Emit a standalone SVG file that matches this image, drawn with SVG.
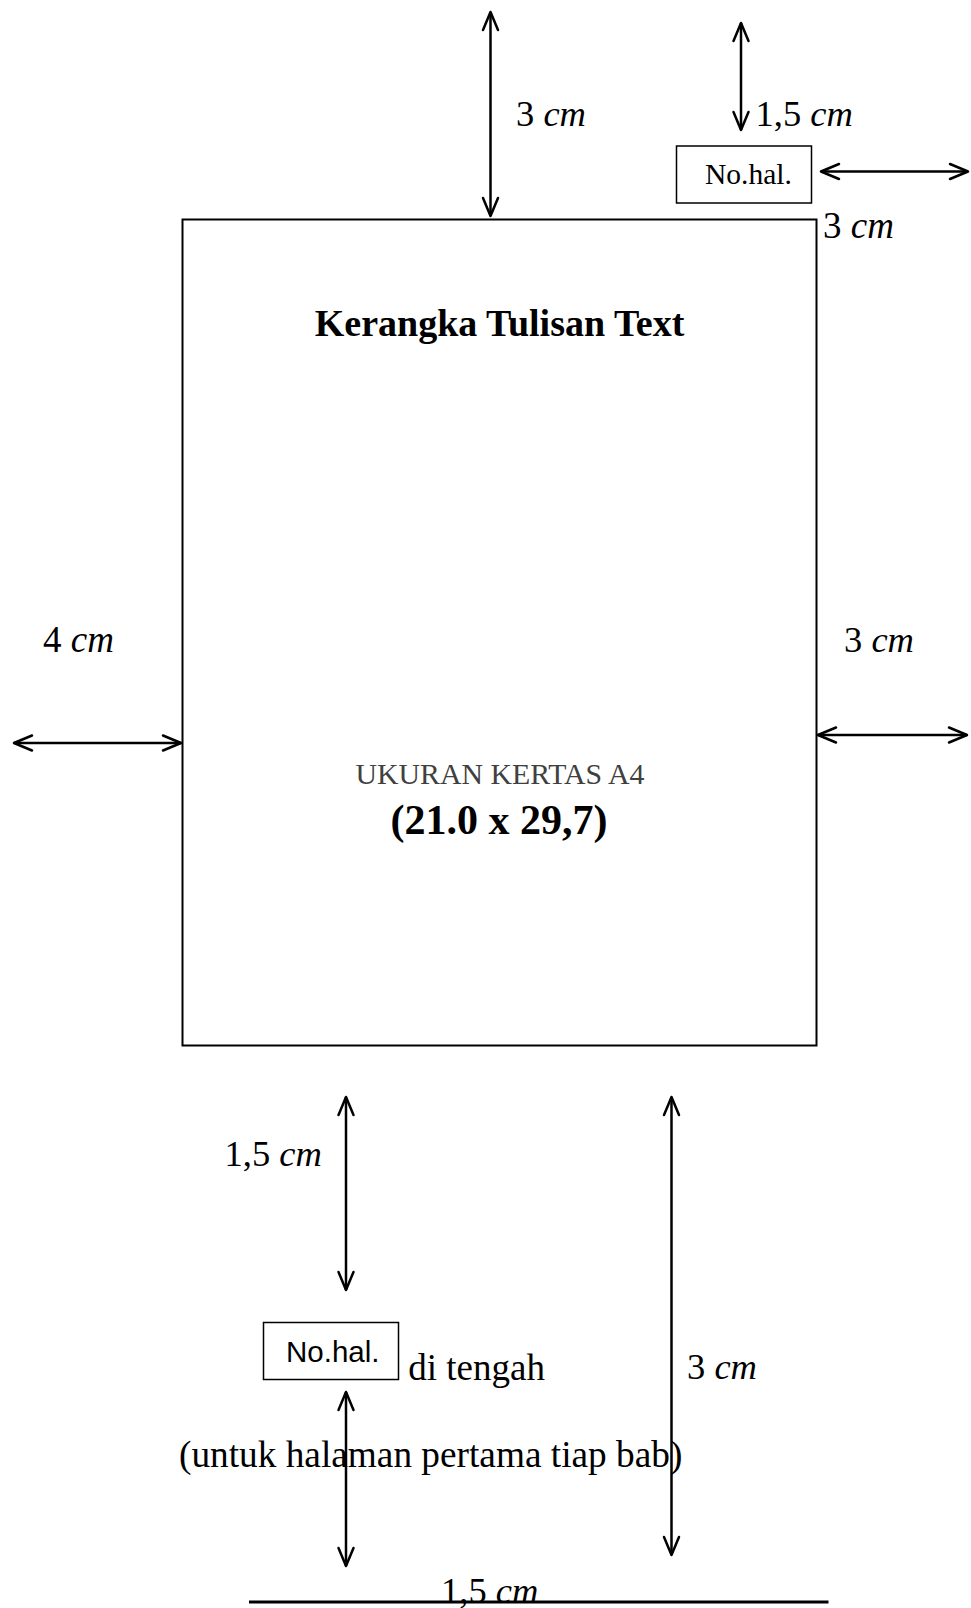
<svg xmlns="http://www.w3.org/2000/svg" width="971" height="1608" viewBox="0 0 971 1608">
<style>
.t{font-family:"Liberation Serif","Times New Roman",serif;fill:#000}
.lbl{font-size:36.5px}
.i{font-style:italic}
.ar{stroke:#000;stroke-width:2.5;fill:none;marker-start:url(#ah);marker-end:url(#ah)}
.box{fill:#fff;stroke:#000;stroke-width:1.5}
</style>
<defs>
<marker id="ah" viewBox="-20 -10 22 20" refX="0" refY="0" markerWidth="22" markerHeight="20" markerUnits="userSpaceOnUse" orient="auto-start-reverse">
<path d="M-18,-7.5 L0,0 L-18,7.5" fill="none" stroke="#000" stroke-width="2.5" stroke-linejoin="round" stroke-linecap="round"/>
</marker>
</defs>
<rect width="971" height="1608" fill="#fff"/>
<g id="page">
<rect x="182.5" y="219.5" width="634" height="826" fill="none" stroke="#000" stroke-width="2"/>
<text class="t" x="499.5" y="336" font-size="38" font-weight="bold" text-anchor="middle">Kerangka Tulisan Text</text>
<text class="t" x="500" y="784" font-size="29.8" text-anchor="middle" style="fill:#404040">UKURAN KERTAS A4</text>
<text class="t" x="499" y="834" font-size="42" font-weight="bold" text-anchor="middle">(21.0 x 29,7)</text>
</g>
<g id="nohal-top">
<rect class="box" x="676.5" y="146" width="135" height="57"/>
<text class="t" x="705" y="184" font-size="29.5">No.hal.</text>
</g>
<g id="nohal-bottom">
<rect class="box" x="263.5" y="1322.5" width="135" height="57"/>
<text x="286" y="1362" font-size="29.5" font-family="Liberation Sans, Arial, sans-serif">No.hal.</text>
</g>
<g id="connectors">
<line class="ar" x1="490.5" y1="12" x2="490.5" y2="216"/>
<line class="ar" x1="741" y1="23" x2="741" y2="130"/>
<line class="ar" x1="821" y1="171.5" x2="968" y2="171.5"/>
<line class="ar" x1="14" y1="743" x2="181" y2="743"/>
<line class="ar" x1="818" y1="735" x2="967" y2="735"/>
<line class="ar" x1="346" y1="1097" x2="346" y2="1290"/>
<line class="ar" x1="346" y1="1392" x2="346" y2="1566"/>
<line class="ar" x1="671.5" y1="1097" x2="671.5" y2="1555"/>
<line x1="249" y1="1602" x2="828.5" y2="1602" stroke="#000" stroke-width="3"/>
</g>
<g id="labels">
<text class="t lbl" x="516" y="126">3 <tspan class="i">cm</tspan></text>
<text class="t lbl" x="755.5" y="126">1,5 <tspan class="i">cm</tspan></text>
<text class="t" x="823" y="238" font-size="37">3 <tspan class="i">cm</tspan></text>
<text class="t" x="43" y="652" font-size="37">4 <tspan class="i">cm</tspan></text>
<text class="t lbl" x="844" y="652">3 <tspan class="i">cm</tspan></text>
<text class="t lbl" x="224.5" y="1166">1,5 <tspan class="i">cm</tspan></text>
<text class="t" x="408.3" y="1380" font-size="37">di tengah</text>
<text class="t lbl" x="687" y="1379">3 <tspan class="i">cm</tspan></text>
<text class="t" x="179" y="1467" font-size="37.3">(untuk halaman pertama tiap bab)</text>
<text class="t lbl" x="441" y="1603">1,5 <tspan class="i">cm</tspan></text>
</g>
</svg>
